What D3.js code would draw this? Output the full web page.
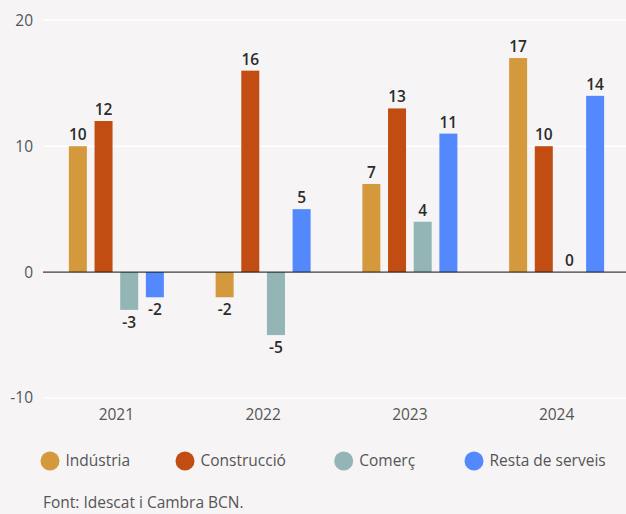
<!DOCTYPE html>
<html><head><meta charset="utf-8">
<script src="https://cdn.jsdelivr.net/npm/d3@7"></script>
<style>
html,body{margin:0;padding:0;background:#f6f4f5;}
svg{display:block;font-family:"Open Sans",Lato,sans-serif;}
</style></head><body>
<svg id="c" width="626" height="514"></svg>
<script>
const years = ["2021","2022","2023","2024"];
const seriesNames = ["Indústria","Construcció","Comerç","Resta de serveis"];
const industria = [10,-2,7,17];
const construccio = [12,16,13,10];
const comerc = [-3,-5,4,0];
const resta = [-2,5,11,14];
const yTicks = [-10,0,10,20];
const colors = ["#d4993c","#c14d12","#93b5b5","#5489fd"];
const source = "Font: Idescat i Cambra BCN.";

const seriesValues = [industria, construccio, comerc, resta];
const svg = d3.select("#c");
const W = 626;
const left = 43, right = 630;
const y = d3.scaleLinear().domain([-10,20]).range([398,20.3]);
const x0 = d3.scaleBand().domain(years).range([left,right]).padding(0);
const groupW = 102.67;
const x1 = d3.scaleBand().domain(seriesNames).range([0,groupW]).paddingInner(0.299).paddingOuter(0.1495);

svg.append("g").selectAll("line").data(yTicks.filter(t=>t!==0)).join("line")
  .attr("x1",left).attr("x2",W).attr("y1",d=>y(d)).attr("y2",d=>y(d))
  .attr("stroke","#ffffff").attr("stroke-width",1.5);

svg.append("g").selectAll("text").data(yTicks).join("text")
  .attr("x",33).attr("y",d=>y(d)).attr("dy","0.35em").attr("text-anchor","end")
  .attr("fill","#555").attr("font-size",15.5).text(d=>d);

const data = [];
years.forEach((yr,i)=>seriesNames.forEach((s,j)=>data.push({yr,s,j,v:seriesValues[j][i]})));
const bx = d => x0(d.yr) + (x0.bandwidth()-groupW)/2 + x1(d.s);
svg.append("g").selectAll("rect").data(data).join("rect")
  .attr("x",bx).attr("width",x1.bandwidth())
  .attr("y",d=>y(Math.max(0,d.v))).attr("height",d=>Math.abs(y(d.v)-y(0)))
  .attr("fill",d=>colors[d.j]);

svg.append("line").attr("x1",left).attr("x2",W).attr("y1",y(0)).attr("y2",y(0))
  .attr("stroke","#111").attr("stroke-width",1);

svg.append("g").selectAll("text").data(data).join("text")
  .attr("x",d=>bx(d)+x1.bandwidth()/2)
  .attr("y",d=>d.v>=0 ? y(d.v)-6 : y(d.v)+18)
  .attr("text-anchor","middle").attr("fill","#2b2b2b").attr("font-weight",600)
  .attr("font-size",15.5).text(d=>d.v);

svg.append("g").selectAll("text").data(years).join("text")
  .attr("x",d=>x0(d)+x0.bandwidth()/2).attr("y",415).attr("dy","0.35em")
  .attr("text-anchor","middle").attr("fill","#555").attr("font-size",15.5).text(d=>d);

const legX = [50,185,343.7,474];
const lg = svg.append("g").selectAll("g").data(seriesNames).join("g")
  .attr("transform",(d,i)=>`translate(${legX[i]},461)`);
lg.append("circle").attr("r",9.5).attr("fill",(d,i)=>colors[i]);
lg.append("text").attr("x",15.5).attr("dy","0.35em").attr("fill","#555")
  .attr("font-size",15.5).text(d=>d);

svg.append("text").attr("x",43).attr("y",503).attr("dy","0.35em")
  .attr("fill","#555").attr("font-size",15.5).text(source);
</script>
</body></html>
